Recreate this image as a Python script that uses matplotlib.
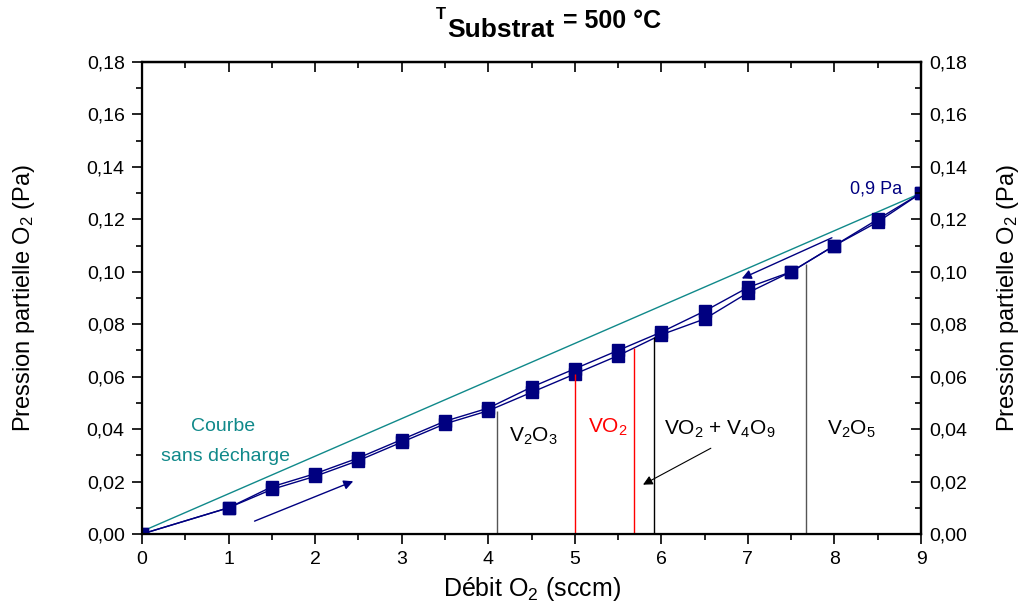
import numpy as np
import matplotlib
matplotlib.use("Agg")
import matplotlib.pyplot as plt
from matplotlib import ticker

plt.rcParams['font.family'] = ['Liberation Sans', 'DejaVu Sans']
plt.rcParams['mathtext.fontset'] = 'custom'
plt.rcParams['mathtext.rm'] = 'Liberation Sans'
plt.rcParams['mathtext.it'] = 'Liberation Sans'
plt.rcParams['mathtext.bf'] = 'Liberation Sans:bold'

# debit O2 (sccm) and partial pressure O2 (Pa), up and down sweeps
debit = [0, 1, 1.5, 2, 2.5, 3, 3.5, 4, 4.5, 5, 5.5, 6, 6.5, 7, 7.5, 8, 8.5, 9]
p_up = [0.000, 0.010, 0.017, 0.022, 0.028, 0.035, 0.042, 0.047, 0.054,
        0.061, 0.068, 0.076, 0.082, 0.092, 0.100, 0.110, 0.119, 0.130]
p_down = [0.000, 0.010, 0.018, 0.023, 0.029, 0.036, 0.043, 0.048, 0.056,
          0.063, 0.070, 0.077, 0.085, 0.094, 0.100, 0.110, 0.120, 0.130]

# no-discharge reference line
ref_x = [0, 9]
ref_p = [0.001, 0.130]

# phase boundaries: position, top, colour
bound_x = [4.10, 5.00, 5.68, 5.92, 7.67]
bound_top = [0.047, 0.061, 0.071, 0.075, 0.103]
bound_col = ['#555555', 'red', 'red', 'black', '#555555']

phase_labels = [r'V$_2$O$_3$', r'VO$_2$', r'VO$_2$ + V$_4$O$_9$', r'V$_2$O$_5$']
phase_x = [4.52, 5.38, 6.67, 8.2]
phase_y = [0.0374, 0.0405, 0.040, 0.040]
phase_col = ['black', 'red', 'black', 'black']

navy = '#000080'
teal = '#10898a'

fig = plt.figure(figsize=(10.27, 6.09), dpi=100)
ax = fig.add_axes([0.1383, 0.1232, 0.7585, 0.775])

ax.plot(ref_x, ref_p, color=teal, lw=1)
ax.plot(debit, p_up, color=navy, lw=1, marker='s', ms=9)
ax.plot(debit, p_down, color=navy, lw=1, marker='s', ms=9)

ax.vlines(bound_x, 0, bound_top, colors=bound_col, lw=1)

for lab, x, y, c in zip(phase_labels, phase_x, phase_y, phase_col):
    ax.text(x, y, lab, color=c, fontsize=15, ha='center', va='center')

ax.text(0.935, 0.0408, 'Courbe', color=teal, fontsize=14, ha='center', va='center')
ax.text(0.96, 0.0294, 'sans décharge', color=teal, fontsize=14, ha='center', va='center')
ax.text(8.78, 0.1315, '0,9 Pa', color=navy, fontsize=13, ha='right', va='center')

ax.annotate('', xy=(2.47, 0.0205), xytext=(1.27, 0.0045),
            arrowprops=dict(arrowstyle='-|>', color=navy, lw=1, mutation_scale=14))
ax.annotate('', xy=(6.90, 0.097), xytext=(8.0, 0.1134),
            arrowprops=dict(arrowstyle='-|>', color=navy, lw=1, mutation_scale=14))
ax.annotate('', xy=(5.76, 0.0183), xytext=(6.60, 0.0332),
            arrowprops=dict(arrowstyle='-|>', color='black', lw=0.8, mutation_scale=14))

ax.set_xlim(0, 9)
ax.set_ylim(0, 0.18)
fmt = ticker.FuncFormatter(lambda v, pos: f"{v:.2f}".replace('.', ','))
ax.xaxis.set_major_locator(ticker.MultipleLocator(1))
ax.xaxis.set_minor_locator(ticker.MultipleLocator(0.5))
ax.yaxis.set_major_locator(ticker.MultipleLocator(0.02))
ax.yaxis.set_minor_locator(ticker.MultipleLocator(0.01))
ax.yaxis.set_major_formatter(fmt)
ax.tick_params(which='major', direction='out', length=7.5, width=1.2, labelsize=14, pad=5)
ax.tick_params(which='minor', direction='out', length=4, width=1.2)
for s in ax.spines.values():
    s.set_linewidth(1.6)

ax2 = ax.twinx()
ax2.set_ylim(0, 0.18)
ax2.yaxis.set_major_locator(ticker.MultipleLocator(0.02))
ax2.yaxis.set_minor_locator(ticker.MultipleLocator(0.01))
ax2.yaxis.set_major_formatter(fmt)
ax2.tick_params(which='major', direction='in', length=7.5, width=1.2, labelsize=14, pad=6)
ax2.tick_params(which='minor', direction='in', length=4, width=1.2)
ax2.spines['right'].set_linewidth(1.6)

top = ax.secondary_xaxis('top')
top.xaxis.set_major_locator(ticker.MultipleLocator(1))
top.xaxis.set_minor_locator(ticker.MultipleLocator(0.5))
top.tick_params(which='major', direction='in', length=7.5, width=1.2, labeltop=False)
top.tick_params(which='minor', direction='in', length=4, width=1.2)
top.spines['top'].set_linewidth(1.6)

ax.set_xlabel(r'Débit O$_2$ (sccm)', fontsize=18)
ax.xaxis.set_label_coords(0.5, -0.086)
ax.set_ylabel(r'Pression partielle O$_2$ (Pa)', fontsize=17)
ax.yaxis.set_label_coords(-0.1345, 0.5)
ax2.set_ylabel(r'Pression partielle O$_2$ (Pa)', fontsize=17)
ax2.yaxis.set_label_coords(1.095, 0.5)

# title: T with a big subscript, as in the original
W, H = 1027, 609
fig.text(436 / W, 1 - 19 / H, 'T', fontsize=12, fontweight='bold', ha='left', va='baseline')
fig.text(447 / W, 1 - 37 / H, 'Substrat', fontsize=19, fontweight='bold', ha='left', va='baseline')
fig.text(563 / W, 1 - 28 / H, '= 500 °C', fontsize=18, fontweight='bold', ha='left', va='baseline')

fig.savefig('out.png', dpi=100)
